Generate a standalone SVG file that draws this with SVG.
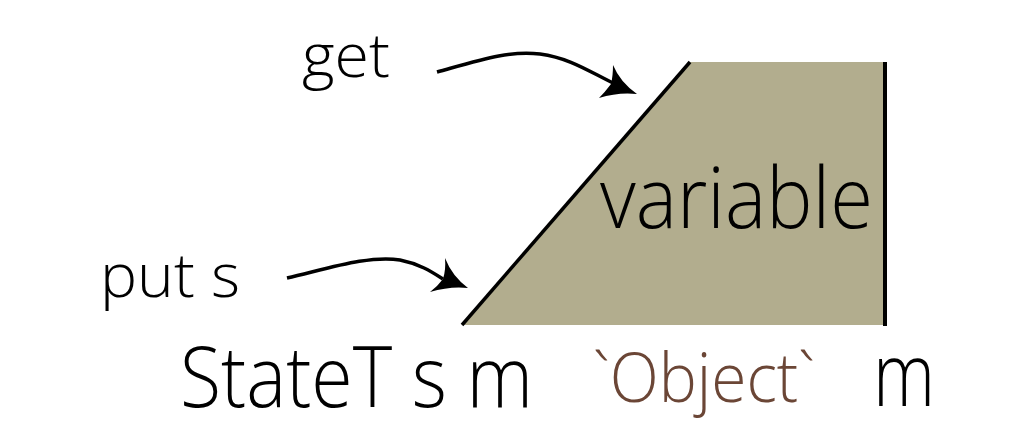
<svg xmlns="http://www.w3.org/2000/svg" width="1024" height="433" viewBox="0 0 1024 433">
<style>
.t{font-family:"Open Sans","Noto Sans","Liberation Sans",sans-serif;font-weight:360;fill:#000}
.ln{fill:none;stroke:#000;stroke-width:3.5}
.hd{fill:#000}
</style>
<rect width="1024" height="433" fill="#fff"/>
<g id="variable">
<polygon points="462,325 690,62 884,62 884,325" fill="#b2ad8e"/>
<line x1="462" y1="325" x2="690" y2="62" stroke="#000" stroke-width="3.5"/>
<line x1="885" y1="62" x2="885" y2="326" stroke="#000" stroke-width="4"/>
<text class="t" x="600" y="228" font-size="84" textLength="273" lengthAdjust="spacingAndGlyphs">variable</text>
</g>
<g id="get">
<text class="t" x="302" y="77" font-size="60" textLength="88" lengthAdjust="spacingAndGlyphs">get</text>
</g>
<g id="put">
<text class="t" x="100" y="297" font-size="60" textLength="140" lengthAdjust="spacingAndGlyphs">put s</text>
</g>
<g id="bottom">
<text class="t" x="180" y="407" font-size="84" textLength="353" lengthAdjust="spacingAndGlyphs">StateT s m</text>
<text class="t" x="593" y="402" font-size="69" textLength="222" lengthAdjust="spacingAndGlyphs" style="fill:#6b4636">`Object`</text>
<text class="t" x="873" y="406" font-size="88" textLength="62" lengthAdjust="spacingAndGlyphs">m</text>
</g>
<g id="connectors">
<path class="ln" d="M437,72 C480,60 510,50 540,54 C570,58 590,72 613,83"/>
<path class="hd" d="M637,94 Q620,82 613,65 Q613,76 611,84 Q605,92 599,98 Q618,92 637,94 Z"/>
<path class="ln" d="M287,278 C330,268 370,255 400,260 C420,264 432,272 443,279"/>
<path class="hd" d="M468,288 Q452,276 445,258 Q446,270 443,279 Q437,287 430,292 Q450,286 468,288 Z"/>
</g>
</svg>
